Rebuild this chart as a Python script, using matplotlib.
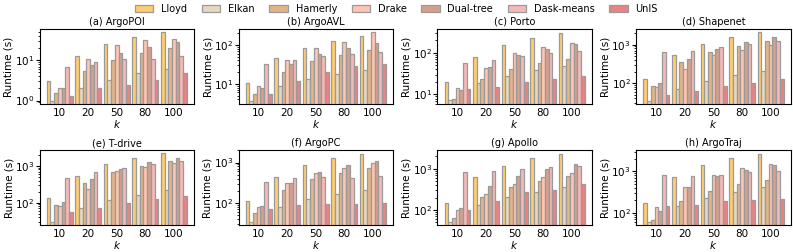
import matplotlib
matplotlib.use('Agg')
import matplotlib.pyplot as plt
import numpy as np

plt.rcParams['font.size'] = 7.5
plt.rcParams['hatch.linewidth'] = 0.5

k_labels = ['10', '20', '50', '80', '100']
methods = ['Lloyd', 'Elkan', 'Hamerly', 'Drake', 'Dual-tree', 'Dask-means', 'UnIS']
colors = ['#FFCD70', '#E6D8C0', '#E3B585', '#FFC4B2', '#D3A08C', '#F5B8B8', '#E88484']
hatches = ['', '', '', '', '', '', '\\']

titles = ['(a) ArgoPOI', '(b) ArgoAVL', '(c) Porto', '(d) Shapenet',
          '(e) T-drive', '(f) ArgoPC', '(g) Apollo', '(h) ArgoTraj']

# runtime (s), one row per method, columns follow k_labels
argopoi = [[3.1, 12.6, 25, 37, 49],
           [1.0, 2.1, 3.25, 4.7, 6.1],
           [1.55, 5.3, 10, 15, 20],
           [2.0, 11, 23.5, 31, 33],
           [2.0, 7.7, 15, 21, 28],
           [6.8, 9.3, 11, 11, 12.6],
           [1.3, 2.0, 2.5, 3.3, 4.7]]
argoavl = [[10.8, 45, 85, 127, 170],
           [3.7, 8.6, 13.4, 18.4, 23],
           [5.65, 20.7, 38, 55, 73],
           [8.6, 40, 82, 117, 211],
           [8.0, 32, 59, 85, 115],
           [33, 42, 51, 59, 65],
           [5.4, 12, 20, 28, 32]]
porto = [[20, 79, 152, 226, 302],
         [7.2, 19, 27, 37.6, 47],
         [7.9, 23.5, 40.5, 58, 72],
         [14, 42, 98, 134, 166],
         [12.6, 46, 86, 120, 157],
         [56, 68, 82, 96, 109],
         [13.6, 15.5, 20, 24, 28]]
shapenet = [[130, 537, 1060, 1550, 2100],
            [35, 70, 113, 160, 205],
            [85, 345, 650, 940, 1270],
            [79, 228, 540, 740, 960],
            [100, 423, 785, 1170, 1600],
            [630, 670, 855, 1020, 1270],
            [50, 62, 83, 104, 132]]
tdrive = [[131, 545, 1090, 1620, 2170],
          [30, 70, 118, 165, 217],
          [85, 345, 660, 1000, 1340],
          [80, 240, 715, 920, 1180],
          [102, 435, 830, 1230, 1650],
          [480, 685, 865, 1110, 1340],
          [55, 73, 100, 130, 148]]
argopc = [[108, 445, 860, 1280, 1660],
          [33.5, 80, 125, 163, 205],
          [57, 205, 390, 547, 725],
          [77, 316, 557, 740, 1000],
          [81, 316, 590, 845, 1120],
          [320, 405, 430, 420, 453],
          [71, 88, 94, 91, 96]]
apollo = [[150, 630, 1200, 1840, 2330],
          [52, 132, 213, 275, 370],
          [64, 213, 363, 515, 667],
          [102, 247, 420, 630, 815],
          [112, 384, 690, 1000, 1290],
          [830, 880, 980, 1080, 1200],
          [98, 170, 270, 307, 428]]
argotraj = [[176, 720, 1415, 2075, 2680],
            [61, 150, 232, 322, 415],
            [66, 197, 346, 490, 620],
            [139, 424, 818, 1200, 1520],
            [112, 410, 790, 1100, 1440],
            [820, 760, 830, 946, 1020],
            [150, 158, 193, 204, 215]]

datasets = [argopoi, argoavl, porto, shapenet, tdrive, argopc, apollo, argotraj]

fig, axes = plt.subplots(2, 4, figsize=(7.93, 2.52), dpi=100)
x = np.arange(len(k_labels))
w = 0.13

for ax, title, data in zip(axes.flat, titles, datasets):
    data = np.array(data, dtype=float)
    for i, m in enumerate(methods):
        ax.bar(x + (i - 3) * w, data[i], w, color=colors[i], edgecolor='#9a9a9a',
               linewidth=0.9, hatch=hatches[i], label=m)
    ax.set_yscale('log')
    ax.set_ylim(data.min() * 0.83, data.max() * 1.22)
    ax.set_xticks(x)
    ax.set_xticklabels(k_labels)
    ax.set_title(title, fontsize=7, pad=3)
    ax.set_ylabel('Runtime (s)', labelpad=0.5)
    ax.set_xlabel('$k$', labelpad=0)
    ax.tick_params(axis='x', length=0, pad=3)
    ax.tick_params(axis='y', which='major', length=3, pad=1)
    ax.tick_params(axis='y', which='minor', length=1.5)

handles, labels = axes[0, 0].get_legend_handles_labels()
fig.legend(handles, labels, loc='upper center', bbox_to_anchor=(0.5, 1.02), ncol=7,
           frameon=False, handlelength=1.9, columnspacing=1.5, fontsize=7)

fig.subplots_adjust(left=0.05, right=0.997, top=0.885, bottom=0.107, wspace=0.29, hspace=0.62)
fig.savefig('out.png', dpi=100)
